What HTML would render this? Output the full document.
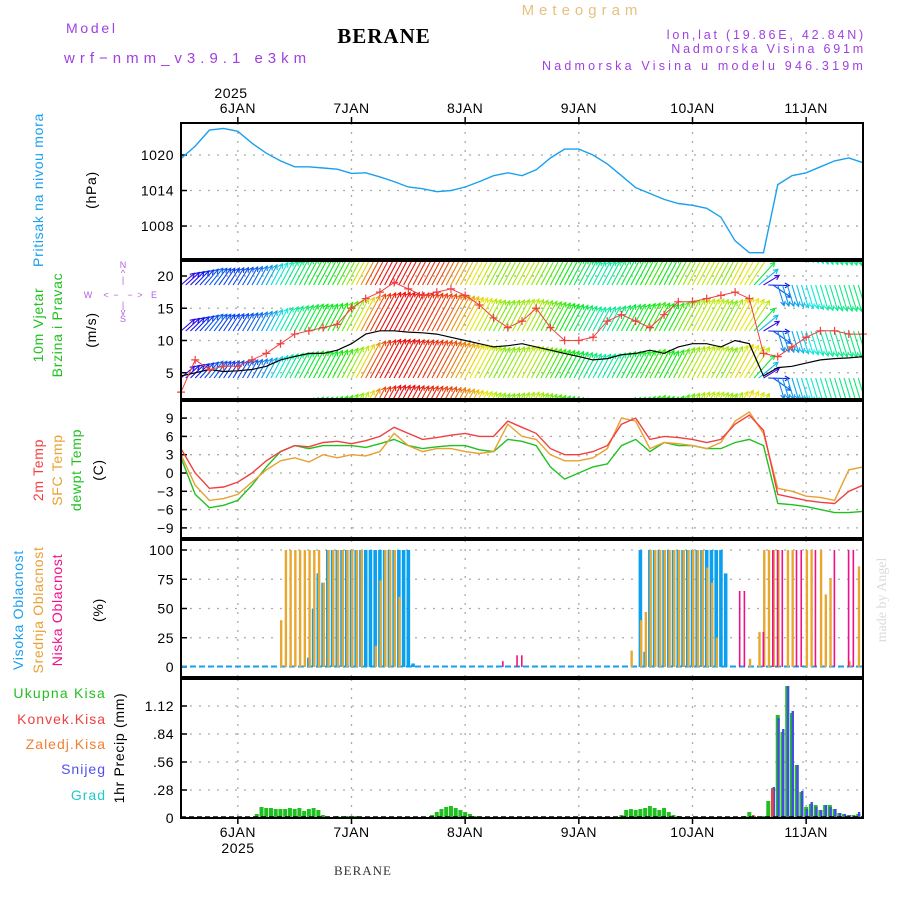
<!DOCTYPE html>
<html><head><meta charset="utf-8">
<style>
html,body{margin:0;padding:0;background:#fff;}
svg{display:block;font-family:"Liberation Sans",sans-serif;}
</style></head>
<body>
<svg id="chart" width="900" height="900" viewBox="0 0 900 900" xmlns="http://www.w3.org/2000/svg">
<defs>
<clipPath id="windClip"><rect x="181" y="261" width="682" height="138"/></clipPath>
</defs>
<g>
<text x="66" y="33" fill="#a040e0" font-size="14" letter-spacing="2.7">Model</text>
<text x="64" y="63" fill="#a040e0" font-size="15" letter-spacing="5">wrf−nmm_v3.9.1 e3km</text>
<text x="384" y="43" fill="#000" font-size="21" font-weight="bold" font-family="Liberation Serif, serif" text-anchor="middle" letter-spacing="1">BERANE</text>
<text x="582" y="15" fill="#e8c080" font-size="15" text-anchor="middle" letter-spacing="5">Meteogram</text>
<text x="866" y="39" fill="#a040e0" font-size="12.5" text-anchor="end" letter-spacing="2.8">lon,lat (19.86E, 42.84N)</text>
<text x="866" y="53" fill="#a040e0" font-size="12.5" text-anchor="end" letter-spacing="2.8">Nadmorska Visina 691m</text>
<text x="866" y="70" fill="#a040e0" font-size="12.5" text-anchor="end" letter-spacing="3.2">Nadmorska Visina u modelu 946.319m</text>
</g>
<g font-size="14" letter-spacing="0.7">
<text transform="translate(43,190) rotate(-90)" text-anchor="middle" fill="#1aa0f0">Pritisak na nivou mora</text>
<text transform="translate(96,190) rotate(-90)" text-anchor="middle" fill="#000">(hPa)</text>
<text transform="translate(43,325) rotate(-90)" text-anchor="middle" fill="#20c020">10m Vjetar</text>
<text transform="translate(62,325) rotate(-90)" text-anchor="middle" fill="#20c020">Brzina i Pravac</text>
<text transform="translate(96,330) rotate(-90)" text-anchor="middle" fill="#000">(m/s)</text>
<g fill="#b060e0" font-size="9" text-anchor="middle" letter-spacing="0">
<text x="123" y="268">N</text><text x="123" y="276">^</text><text x="123" y="283">|</text>
<text x="88" y="298">W</text><text x="106" y="298">&lt;</text><text x="116" y="298">−</text><text x="130" y="298">−</text><text x="140" y="298">&gt;</text><text x="154" y="298">E</text>
<text x="123" y="308">|</text><text x="123" y="315">v</text><text x="123" y="322">S</text>
</g>
<text transform="translate(43,470) rotate(-90)" text-anchor="middle" fill="#f04040">2m Temp</text>
<text transform="translate(62,470) rotate(-90)" text-anchor="middle" fill="#e8a030">SFC Temp</text>
<text transform="translate(81,470) rotate(-90)" text-anchor="middle" fill="#20c020">dewpt Temp</text>
<text transform="translate(103,470) rotate(-90)" text-anchor="middle" fill="#000">(C)</text>
<text transform="translate(23,610) rotate(-90)" text-anchor="middle" fill="#1aa0f0">Visoka Oblacnost</text>
<text transform="translate(43,610) rotate(-90)" text-anchor="middle" fill="#e8a030">Srednja Oblacnost</text>
<text transform="translate(62,610) rotate(-90)" text-anchor="middle" fill="#f0108a">Niska Oblacnost</text>
<text transform="translate(103,610) rotate(-90)" text-anchor="middle" fill="#000">(%)</text>
<text x="106" y="698" text-anchor="end" fill="#20c020" letter-spacing="1.2">Ukupna Kisa</text>
<text x="106" y="724" text-anchor="end" fill="#f04040" letter-spacing="1">Konvek.Kisa</text>
<text x="106" y="749" text-anchor="end" fill="#f08030" letter-spacing="1">Zaledj.Kisa</text>
<text x="106" y="774" text-anchor="end" fill="#5050f0" letter-spacing="1">Snijeg</text>
<text x="106" y="800" text-anchor="end" fill="#20c8c8" letter-spacing="1">Grad</text>
<text transform="translate(124,748) rotate(-90)" text-anchor="middle" fill="#000">1hr Precip (mm)</text>
</g>
<text transform="translate(886,600) rotate(-90)" text-anchor="middle" fill="#d8dcd8" font-size="14" font-family="Liberation Serif, serif">made by Angel</text>
<text x="363" y="875" text-anchor="middle" fill="#333" font-size="13" font-family="Liberation Serif, serif" letter-spacing="1">BERANE</text>
<g id="plot"></g>
</svg>
<script>
// ---- data (3-hourly from 5 JAN 12Z) ----
const dayLabels = ["6JAN","7JAN","8JAN","9JAN","10JAN","11JAN"];
const dayHours = [12,36,60,84,108,132];
const pressTicks = [1008,1014,1020];
const windTicks = [5,10,15,20];
const tempTicks = [-9,-6,-3,0,3,6,9];
const cloudTicks = [0,25,50,75,100];
const precipTicks = [0,0.28,0.56,0.84,1.12];
const pressure = [1019.4,1021.5,1024.2,1024.5,1024,1022,1020.3,1019,1018,1018,1017.8,1017.6,1016.9,1017,1016.3,1015.5,1014.6,1014.3,1013.8,1014,1014.6,1015.5,1016.5,1017,1016.5,1017.5,1019.5,1021,1021,1020,1018.5,1016.5,1014.5,1013.5,1012.5,1011.8,1011.5,1011,1009.5,1005.5,1003.5,1003.5,1015,1016.5,1017,1018,1019,1019.5,1018.7];
const temp2m = [4,0,-2.5,-2.3,-1.5,0,2,3.5,4.5,4.3,5,5.2,4.8,5.3,6,7.5,6.5,5.5,5.8,6.2,6.5,6,6,8.5,7.5,6.5,4,3,3,3.5,4.5,8,9,5.5,6,5.8,5.5,5,5.5,8,9.5,7,-3.5,-4,-4.5,-4.8,-5,-3,-2];
const tempSfc = [3,-2,-4.5,-4.2,-3.5,-1.5,0.5,2,2.5,1.8,3,2.5,3,2.8,3.5,6.5,4.5,3.5,4,4,3.5,3.2,3.5,8,6,5.5,3,2,2,2.5,4,9,8.5,4,5,4.8,4.5,4,5,8.5,10,6.5,-2.5,-3,-3.8,-4,-4.5,0.5,1];
const dewpt = [2.5,-3.5,-5.7,-5.3,-4.5,-2,1,3.5,4.5,4,4.5,4.5,4.5,4.2,4.8,5.5,4.5,4,4.3,4.5,4.5,3.8,3.5,5.5,5.2,4.5,1,-1,0,1,1.5,4.5,5.5,3.5,5,4.5,4.5,4,4,5,5.5,4.5,-5,-5.2,-5.5,-6,-6.5,-6.5,-6.3];
const windSpeed = [4.5,5,5.5,5.2,5.3,5.5,6,7,7.5,8,8,8.5,9.5,11,11.5,11.5,11.3,11.2,11,10.5,10,9.5,9,9.2,9.5,9,8.5,8,7.5,7,7.2,7.8,8,8.5,8,9,9.5,9.5,9,10,9.5,4.5,5.8,6,6.5,7,7.2,7.3,7.5];
const windGust = [2,7,5.5,6,6,7,8,9.5,11,11.5,12,12.5,15,16.5,17.5,19,18,17,17.5,18,17,15.5,13.5,12,13,15,12,10,10,10.5,13,14,13,12,14,16,16,16.5,17,17.5,16.5,8,7.5,9,10.5,11.5,11.5,11,11];
const windDir = [225,220,215,210,208,206,205,205,205,205,205,205,205,205,205,205,205,205,205,205,205,205,205,205,205,205,205,205,205,205,205,205,205,205,205,205,205,205,205,205,210,235,345,345,345,345,345,345,345];
// hourly cloud (sparse: hour index, value)
const highHours = [27,28,29,30,31,32,33,34,35,36,37,38,39,40,41,42,43,44,45,46,47,48,49,97,98,99,100,101,102,103,104,105,106,107,108,109,110,111,112,113,114,115];
const highVals  = [8,50,80,72,100,100,100,100,100,100,100,100,100,100,100,100,100,100,100,100,100,100,3,100,13,100,100,100,100,100,100,100,100,100,100,100,100,100,100,100,100,80];
const midHours = [21,22,23,24,25,26,27,28,29,30,31,32,33,34,35,36,37,38,41,42,43,44,45,46,95,97,98,99,100,101,102,103,104,105,106,107,108,109,110,111,112,113,120,122,123,124,125,126,128,129,132,133,135,136,137,141,143];
const midVals  = [40,100,100,100,100,100,100,100,100,72,100,100,100,100,100,100,100,100,18,74,100,100,100,60,14,40,47,100,100,100,100,100,100,100,100,100,100,100,100,85,72,25,7,30,100,100,100,100,100,100,100,100,100,62,76,5,86];
const lowHours = [68,71,72,118,119,123,125,126,127,130,131,134,138,141,142];
const lowVals  = [5,10,10,65,65,30,100,100,100,100,100,100,100,100,100];
// hourly precipitation (sparse)
const precipHours = [16,17,18,19,20,21,22,23,24,25,26,27,28,29,30,33,35,37,39,53,54,55,56,57,58,59,60,61,62,63,93,94,95,96,97,98,99,100,101,102,103,104,105,119,120,121,123,124,125,126,127,128,129,130,131,132,133,134,135,136,137,138,139,140,141,142,143];
const precipTotal = [0.04,0.11,0.1,0.1,0.09,0.09,0.09,0.1,0.09,0.1,0.07,0.09,0.1,0.08,0.03,0.02,0.02,0.02,0.01,0.03,0.06,0.09,0.11,0.12,0.1,0.08,0.06,0.04,0.02,0.01,0.03,0.08,0.09,0.08,0.09,0.1,0.12,0.1,0.08,0.1,0.06,0.03,0.02,0.02,0.06,0.02,0.02,0.17,0.3,1.03,0.86,1.32,1.05,0.53,0.26,0.11,0.14,0.13,0.08,0.13,0.13,0.09,0.05,0.04,0.03,0.03,0.04];
const precipSnow  = [0,0,0,0,0,0,0,0,0,0,0,0,0,0,0,0,0,0,0,0,0,0,0,0,0,0,0,0,0,0,0,0,0,0,0,0,0,0,0,0,0,0,0,0,0,0,0,0,0.31,1.0,0.89,1.32,1.07,0.53,0.27,0.09,0.16,0.11,0.08,0.13,0.11,0.09,0.05,0.04,0.03,0.02,0.06];
const precipConv  = [0,0,0,0,0,0,0,0,0,0,0,0,0,0,0,0,0,0,0,0,0,0,0,0,0,0,0,0,0,0,0,0,0,0,0,0,0,0,0,0,0,0,0,0,0,0.03,0,0,0.29,0,0,0,0,0,0,0,0,0,0,0,0,0,0,0,0,0,0];

// ---- axes ----
const X0=181, X1=863, HOURS=144;
const xH = h => X0 + h*(X1-X0)/HOURS;
const xI = i => xH(i*3);
const yP = v => 155 + (1020-v)*5.92;
const yW = v => 405 - 6.45*v;
const yT = v => 473 - 6.1*v;
const yC = v => 667 - 1.17*v;
const yR = v => 818 - 100*v;
const panels = [
 {name:'pressure-panel', top:123, bot:259, ticks:pressTicks, f:yP, fmt:v=>String(v)},
 {name:'wind-panel', top:261, bot:399, ticks:windTicks, f:yW, fmt:v=>String(v)},
 {name:'temp-panel', top:401, bot:538, ticks:tempTicks, f:yT, fmt:v=>String(v).replace('-','−')},
 {name:'cloud-panel', top:540, bot:677, ticks:cloudTicks, f:yC, fmt:v=>String(v)},
 {name:'precip-panel', top:679, bot:818, ticks:precipTicks, f:yR, fmt:v=>v===0?'0':v.toFixed(2).replace(/^0/,'')}
];
const NS='http://www.w3.org/2000/svg';
const plot=document.getElementById('plot');
function mk(tag, attrs, parent){const e=document.createElementNS(NS,tag);for(const k in attrs)e.setAttribute(k,attrs[k]);(parent||plot).appendChild(e);return e;}
function interp(arr,h){const t=h/3;const i=Math.min(Math.floor(t),arr.length-2);const f=t-i;return arr[i]*(1-f)+arr[i+1]*f;}

// grid + ticks
panels.forEach(p=>{
  const g=mk('g',{});
  
  
  p.ticks.forEach(v=>{
    const y=p.f(v);
    const gl=mk('line',{x1:X0,x2:X1,y1:y,y2:y,stroke:'#aaa','stroke-width':1.3,'stroke-dasharray':'2,7'},g);
    
    
    mk('line',{x1:X0,x2:X0+6,y1:y,y2:y,stroke:'#000','stroke-width':1.5},g);
    const t=mk('text',{x:X0-7,y:y+5,'text-anchor':'end','font-size':14,fill:'#000','letter-spacing':'0.5'},g);
    t.textContent=p.fmt(v);
    
    
  });
  dayHours.forEach(h=>{
    const x=xH(h);
    mk('line',{x1:x,x2:x,y1:p.top,y2:p.bot,stroke:'#aaa','stroke-width':1.3,'stroke-dasharray':'2,7'},g);
  });
});
// day labels
dayHours.forEach((h,i)=>{
  const x=xH(h);
  const t=mk('text',{x:x,y:113,'text-anchor':'middle','font-size':14,fill:'#000','letter-spacing':'0.5'});
  t.textContent=dayLabels[i];
  
  
  const b=mk('text',{x:x,y:837,'text-anchor':'middle','font-size':14,fill:'#000','letter-spacing':'0.5'});
  b.textContent=dayLabels[i];
  
  
  mk('line',{x1:x,x2:x,y1:117,y2:123,stroke:'#000','stroke-width':1.5});
  mk('line',{x1:x,x2:x,y1:818,y2:824,stroke:'#000','stroke-width':1.5});
});
const yr1=mk('text',{x:231,y:98,'text-anchor':'middle','font-size':14,fill:'#000','letter-spacing':'0.5'});yr1.textContent='2025';


const yr2=mk('text',{x:238,y:853,'text-anchor':'middle','font-size':14,fill:'#000','letter-spacing':'0.5'});yr2.textContent='2025';



function poly(arr,f,color,name,w){
  const pts=arr.map((v,i)=>xI(i).toFixed(1)+','+f(v).toFixed(1)).join(' ');
  const e=mk('polyline',{points:pts,fill:'none',stroke:color,'stroke-width':w||1.4});
  
  
  return e;
}
// pressure
poly(pressure,yP,'#1aa0f0','pressure-line',1.4);

// wind arrows
const wg=mk('g',{'clip-path':'url(#windClip)'});


const rowBases=[239,285,331,378,424];
for(let h=0;h<=HOURS;h++){
  const s=interp(windSpeed,h), d=interp(windDir,h);
  const L=s*3.7;
  const dx=-Math.sin(d*Math.PI/180)*L*1.15, dy=Math.cos(d*Math.PI/180)*L;
  let hue=(270-(s-4)*36); hue=((hue%360)+360)%360;
  const col='hsl('+hue+',90%,48%)';
  const x=xH(h);
  rowBases.forEach(b=>{
    const x2=x+dx, y2=b+dy;
    const a=Math.atan2(dy,dx);
    mk('line',{x1:x,y1:b,x2:x2,y2:y2,stroke:col,'stroke-width':1.1},wg);
    const hl=5;
    mk('polyline',{points:(x2-hl*Math.cos(a-0.5)).toFixed(1)+','+(y2-hl*Math.sin(a-0.5)).toFixed(1)+' '+x2.toFixed(1)+','+y2.toFixed(1)+' '+(x2-hl*Math.cos(a+0.5)).toFixed(1)+','+(y2-hl*Math.sin(a+0.5)).toFixed(1),fill:'none',stroke:col,'stroke-width':1.1},wg);
  });
}
poly(windSpeed,yW,'#000','wind-speed-line',1.2);
poly(windGust,yW,'#f04040','wind-gust-line',1);
windGust.forEach((v,i)=>{
  const x=xI(i),y=yW(v);
  const m=mk('path',{d:`M${x-4},${y}H${x+4}M${x},${y-4}V${y+4}`,stroke:'#f04040','stroke-width':1.2});
  
  
});

// temperature
poly(dewpt,yT,'#20c020','dewpoint-line',1.4);
poly(tempSfc,yT,'#e8a030','sfc-temp-line',1.4);
poly(temp2m,yT,'#f04040','temp-2m-line',1.4);

// clouds
mk('line',{x1:X0,x2:X1,y1:666.5,y2:666.5,stroke:'#1aa0f0','stroke-width':2,'stroke-dasharray':'6,3'});
highHours.forEach((h,i)=>{
  const x=xH(h), y=yC(highVals[i]);
  const r=mk('rect',{x:x-1.8,y:y,width:3.6,height:667-y,fill:'#0aa0f0'});
  
  
});
midHours.forEach((h,i)=>{
  const x=xH(h), y=yC(midVals[i]);
  const r=mk('rect',{x:x-0.5,y:y,width:2.4,height:667-y,fill:'#e8a830'});
  
  
});
lowHours.forEach((h,i)=>{
  const x=xH(h), y=yC(lowVals[i]);
  const r=mk('rect',{x:x-1,y:y,width:1.6,height:667-y,fill:'#f0108a'});
  
  
});

// precipitation
precipHours.forEach((h,i)=>{
  const x=xH(h);
  const t=precipTotal[i], s=precipSnow[i], c=precipConv[i];
  if(t>0){const r=mk('rect',{x:x-2,y:yR(t),width:4,height:818-yR(t),fill:'#20c020'});
    
    }
  if(s>0){const r=mk('rect',{x:x-0.4,y:yR(s),width:2.4,height:818-yR(s),fill:'#4848f0'});
    
    }
  if(c>0){const r=mk('rect',{x:x-2,y:yR(c),width:2.6,height:818-yR(c),fill:'#f04040'});
    
    }
});
mk('line',{x1:X0,x2:X1,y1:817,y2:817,stroke:'#000','stroke-width':1.5,'stroke-dasharray':'5,3'});

// panel borders
panels.forEach(p=>{
  const r=mk('rect',{x:X0,y:p.top,width:X1-X0,height:p.bot-p.top,fill:'none',stroke:'#000','stroke-width':2});
  
  
});
</script>
</body></html>
